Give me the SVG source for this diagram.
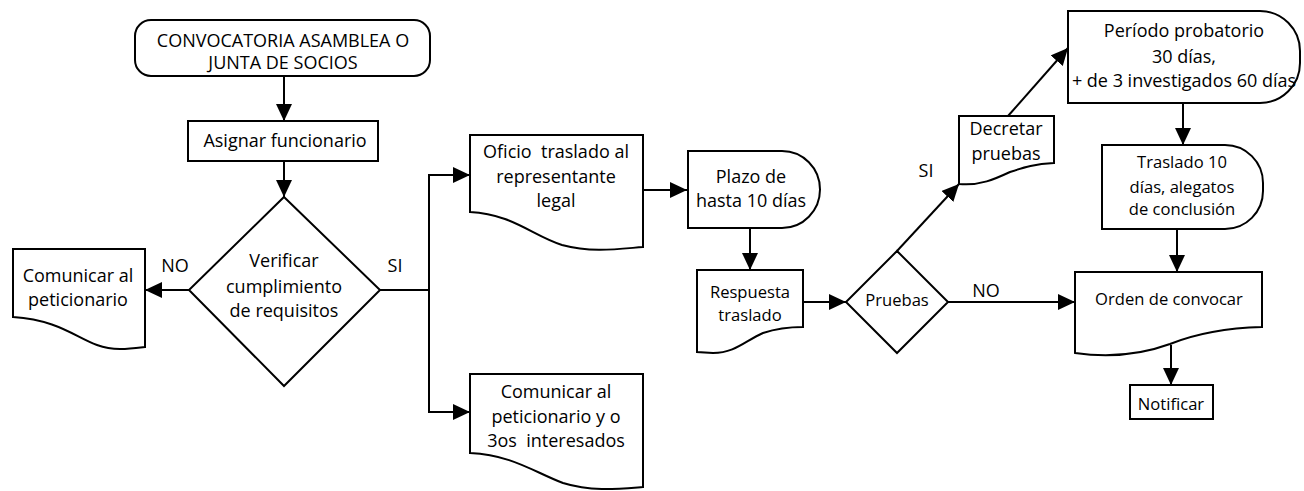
<svg xmlns="http://www.w3.org/2000/svg" width="1304" height="491" viewBox="0 0 1304 491">
<style>
.s{fill:#fff;stroke:#000;stroke-width:2;stroke-linejoin:miter}
.c{fill:none;stroke:#000;stroke-width:2}
text{font-family:"Open Sans","Noto Sans","Liberation Sans",sans-serif;font-size:18px;fill:#000;text-anchor:middle}
.sm{font-size:16.6px}
</style>
<defs>
<marker id="a" viewBox="0 0 17 16" refX="17" refY="8" markerWidth="17" markerHeight="16" markerUnits="userSpaceOnUse" orient="auto">
<path d="M0,0 L17,8 L0,16 Z" fill="#000"/>
</marker>
</defs>
<g id="connectors">
<path class="c" d="M284,76 V121" marker-end="url(#a)"/>
<path class="c" d="M284,161 V197" marker-end="url(#a)"/>
<path class="c" d="M189,290 H145" marker-end="url(#a)"/>
<path class="c" d="M380,290 H429"/>
<path class="c" d="M429,290 V175 H470" marker-end="url(#a)"/>
<path class="c" d="M429,290 V412 H470" marker-end="url(#a)"/>
<path class="c" d="M643,190 H687" marker-end="url(#a)"/>
<path class="c" d="M750,228 V270" marker-end="url(#a)"/>
<path class="c" d="M803,302 H846" marker-end="url(#a)"/>
<path class="c" d="M948,302 H1075" marker-end="url(#a)"/>
<path class="c" d="M897,251 L959,184" marker-end="url(#a)"/>
<path class="c" d="M1008,116 L1068,48" marker-end="url(#a)"/>
<path class="c" d="M1183,103 V145" marker-end="url(#a)"/>
<path class="c" d="M1177,229 V272" marker-end="url(#a)"/>
<path class="c" d="M1171,345 V385" marker-end="url(#a)"/>
<text x="175" y="272">NO</text>
<text x="395" y="272">SI</text>
<text x="986" y="297">NO</text>
<text x="926" y="177">SI</text>
</g>
<g id="n-convocatoria">
<rect class="s" x="135" y="20" width="295" height="56" rx="16"/>
<text x="283" y="47">CONVOCATORIA ASAMBLEA O</text>
<text x="283" y="69">JUNTA DE SOCIOS</text>
</g>
<g id="n-asignar">
<rect class="s" x="188" y="121" width="190" height="40"/>
<text x="285" y="147">Asignar funcionario</text>
</g>
<g id="n-verificar">
<polygon class="s" points="284,197 380,290 284,386 189,290"/>
<text x="284" y="267">Verificar</text>
<text x="284" y="293">cumplimiento</text>
<text x="284" y="317">de requisitos</text>
</g>
<g id="n-comunicar1">
<path class="s" d="M13,249 H145 V347 C128,349 114,351 97,345 C75,337 58,320 13,317 Z"/>
<text x="78" y="282">Comunicar al</text>
<text x="78" y="306">peticionario</text>
</g>
<g id="n-oficio">
<path class="s" d="M470,135 H643 V247 C618,249 592,253 562,245 C533,236 512,214 470,212 Z"/>
<text x="556" y="158" xml:space="preserve">Oficio  traslado al</text>
<text x="556" y="183">representante</text>
<text x="556" y="207">legal</text>
</g>
<g id="n-comunicar2">
<path class="s" d="M470,374 H643 V487 C618,489 592,492 563,483 C534,472 512,455 470,453 Z"/>
<text x="556" y="398">Comunicar al</text>
<text x="556" y="423">peticionario y o</text>
<text x="556" y="447" xml:space="preserve">3os  interesados</text>
</g>
<g id="n-plazo">
<path class="s" d="M688,151 H782 A38,38.5 0 0 1 820,189.5 A38,38.5 0 0 1 782,228 H688 Z"/>
<text x="751" y="183">Plazo de</text>
<text x="751" y="207">hasta 10 días</text>
</g>
<g id="n-respuesta">
<path class="s" d="M697,270 H803 V327 C785,327 775,329 763,333 C745,341 735,353 713,353 L697,352 Z"/>
<text class="sm" x="750" y="298">Respuesta</text>
<text class="sm" x="750" y="321">traslado</text>
</g>
<g id="n-pruebas">
<polygon class="s" points="897,251 948,302 897,353 846,302"/>
<text class="sm" x="897" y="306">Pruebas</text>
</g>
<g id="n-decretar">
<path class="s" d="M959,116 H1054 V163 C1035,164 1025,167 1010,172 C995,179 980,186 959,184 Z"/>
<text x="1006" y="135">Decretar</text>
<text x="1006" y="160">pruebas</text>
</g>
<g id="n-periodo">
<path class="s" d="M1068,11 H1260 A40,40 0 0 1 1300,51 V63 A40,40 0 0 1 1260,103 H1068 Z"/>
<text x="1184" y="37">Período probatorio</text>
<text x="1184" y="63">30 días,</text>
<text x="1184" y="87">+ de 3 investigados 60 días</text>
</g>
<g id="n-traslado">
<path class="s" d="M1102,145 H1225 A38,38 0 0 1 1263,183 V191 A38,38 0 0 1 1225,229 H1102 Z"/>
<text class="sm" x="1182" y="168">Traslado 10</text>
<text class="sm" x="1182" y="193">días, alegatos</text>
<text class="sm" x="1182" y="215">de conclusión</text>
</g>
<g id="n-orden">
<path class="s" d="M1075,272 H1262 V327 C1225,328 1195,334 1170,344 C1140,355 1110,358 1075,353 Z"/>
<text class="sm" x="1169" y="305">Orden de convocar</text>
</g>
<g id="n-notificar">
<rect class="s" x="1130" y="385" width="83" height="34"/>
<text class="sm" x="1171" y="410">Notificar</text>
</g>
</svg>
